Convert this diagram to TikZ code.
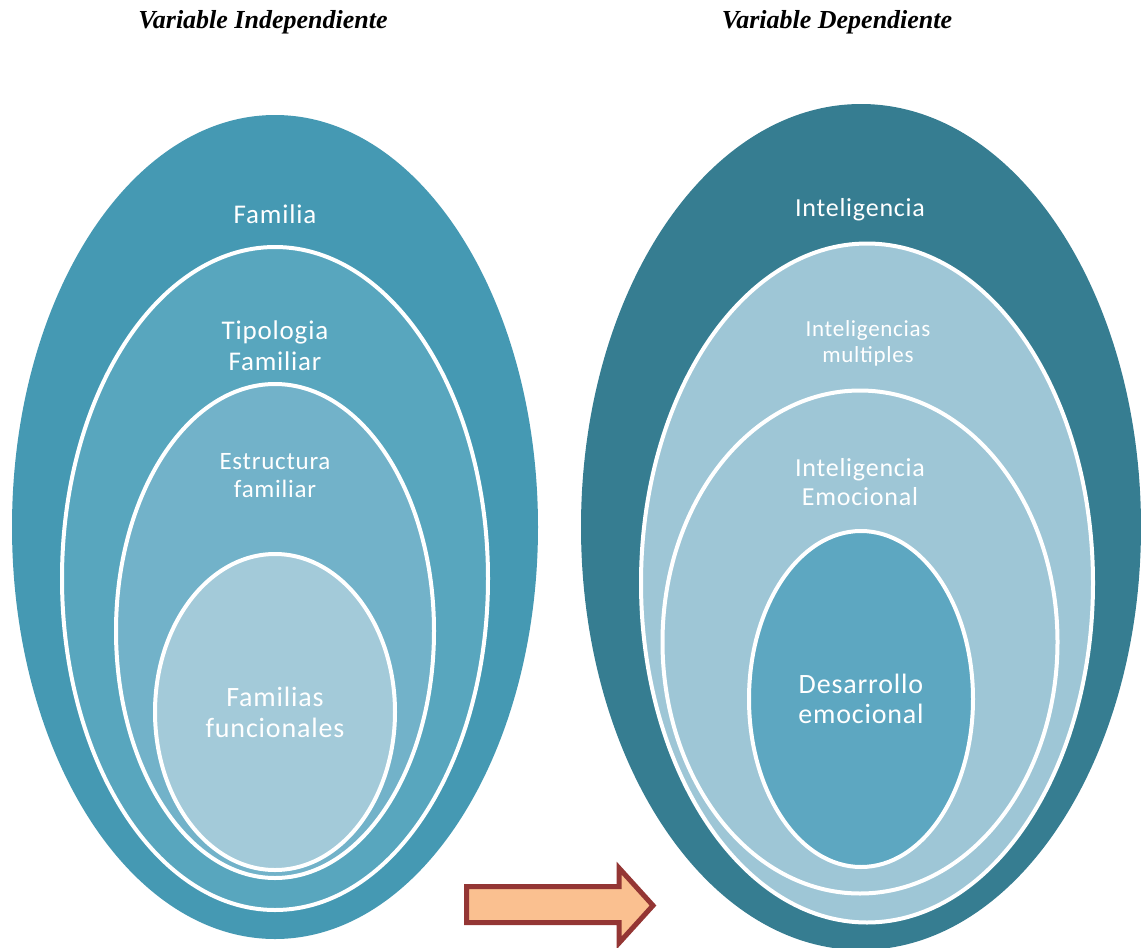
\documentclass[tikz,border=0pt]{standalone}
\usepackage{fontspec}
\setmainfont{Liberation Serif}
\newfontfamily\calfont[LetterSpace=3]{Carlito}
\usetikzlibrary{shapes.geometric}
\definecolor{Louter}{RGB}{69,153,179}
\definecolor{Ltwo}{RGB}{88,166,190}
\definecolor{Lthree}{RGB}{114,178,201}
\definecolor{Lfour}{RGB}{163,202,217}
\definecolor{Router}{RGB}{54,125,145}
\definecolor{Rtwo}{RGB}{158,198,214}
\definecolor{Rfour}{RGB}{93,167,193}
\definecolor{arrfill}{RGB}{250,192,144}
\definecolor{arrdraw}{RGB}{148,54,52}
\tikzset{
  blob/.style={ellipse, inner sep=0pt, outer sep=0pt},
  ring/.style={blob, draw=white, line width=4pt},
  lbl/.style={text=white, align=center, font=\calfont, inner sep=0pt},
  title/.style={font=\bfseries\itshape\fontsize{26}{30}\selectfont, inner sep=0pt}
}
\begin{document}
\begin{tikzpicture}[x=1pt,y=-1pt]
\useasboundingbox (0,0) rectangle (1141,948);
\begin{scope}
\clip (0,0) rectangle (1141,948);
% left
\node[blob, fill=Louter, minimum width=526pt, minimum height=824pt] (L1) at (275,527) {};
\node[ring, fill=Ltwo, minimum width=426pt, minimum height=663pt] (L2) at (275,578.5) {};
\node[ring, fill=Lthree, minimum width=318pt, minimum height=494pt] (L3) at (275,631) {};
\node[ring, fill=Lfour, minimum width=240pt, minimum height=316pt] (L4) at (275,712) {};
% right
\node[blob, fill=Router, minimum width=560pt, minimum height=846pt] (R1) at (861,527) {};
\node[ring, fill=Rtwo, minimum width=452pt, minimum height=679pt] (R2) at (867,583) {};
\node[ring, fill=Rtwo, minimum width=395pt, minimum height=503pt] (R3) at (860,642) {};
\node[ring, fill=Rfour, minimum width=224pt, minimum height=336pt] (R4) at (861,699) {};
\end{scope}
% labels left
\node[lbl, font=\calfont\fontsize{27}{30}\selectfont] (tL1) at (275,214) {Familia};
\node[lbl, font=\calfont\fontsize{27}{31}\selectfont] (tL2) at (275,346) {Tipologia\\Familiar};
\node[lbl, font=\calfont\fontsize{25}{28}\selectfont] (tL3) at (275,476) {Estructura\\familiar};
\node[lbl, font=\calfont\fontsize{28}{31}\selectfont] (tL4) at (275,712) {Familias\\funcionales};
% labels right
\node[lbl, font=\calfont\fontsize{26}{30}\selectfont] (tR1) at (860,210) {Inteligencia};
\node[lbl, font=\calfont\fontsize{23}{26}\selectfont] (tR2) at (868,343) {Inteligencias\\multiples};
\node[lbl, font=\calfont\fontsize{26}{29}\selectfont] (tR3) at (860,482) {Inteligencia\\Emocional};
\node[lbl, font=\calfont\fontsize{28}{30}\selectfont] (tR4) at (861,699) {Desarrollo\\emocional};
% titles
\node[title] (T1) at (263,22) {Variable Independiente};
\node[title] (T2) at (837,22) {Variable Dependiente};
% arrow
\draw[fill=arrfill, draw=arrdraw, line width=5pt, line join=miter]
  (466.5,886.5) -- (619,886.5) -- (619,868) -- (653,905.5) -- (619,943) -- (619,922.5) -- (466.5,922.5) -- cycle;
\end{tikzpicture}
\end{document}
